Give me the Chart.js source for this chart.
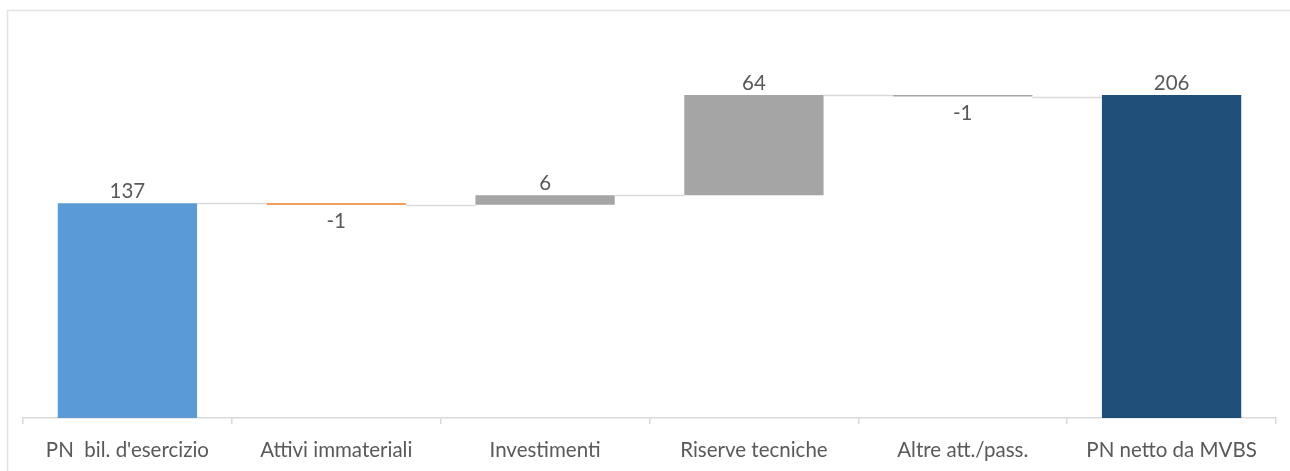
<!DOCTYPE html>
<html>
<head>
<meta charset="utf-8">
<script src="https://cdn.jsdelivr.net/npm/chart.js@4.4.1/dist/chart.umd.min.js"></script>
<style>
  html, body { margin: 0; padding: 0; background: #ffffff; }
  #wrap { width: 1290px; height: 471px; position: relative; }
</style>
</head>
<body>
<div id="wrap"><canvas id="c"></canvas></div>
<script>
const categories = ["PN  bil. d'esercizio", "Attivi immateriali", "Investimenti", "Riserve tecniche", "Altre att./pass.", "PN netto da MVBS"];
const values = [137, -1, 6, 64, -1, 206];
const isTotal = [true, false, false, false, false, true];
const barColors = ["#5B9BD5", "#ED7D31", "#A5A5A5", "#A5A5A5", "#A5A5A5", "#1F4E79"];
const yMin = 0;
const yMax = 250;

// floating ranges from running sum
const ranges = [];
const endLevels = [];
let running = 0;
values.forEach((v, i) => {
  if (isTotal[i]) {
    ranges.push([0, v]);
    running = v;
  } else {
    ranges.push([running, running + v]);
    running += v;
  }
  endLevels.push(running);
});

const waterfallPlugin = {
  id: 'waterfallExtras',
  beforeDraw(chart) {
    const ctx = chart.ctx;
    ctx.save();
    ctx.strokeStyle = '#E3E3E3';
    ctx.lineWidth = 1.5;
    ctx.strokeRect(7.5, 10.5, chart.width + 20, chart.height + 20);
    ctx.restore();
  },
  afterDatasetsDraw(chart) {
    const ctx = chart.ctx;
    const meta = chart.getDatasetMeta(0);
    const y = chart.scales.y;
    ctx.save();
    // connectors
    ctx.strokeStyle = '#D9D9D9';
    ctx.lineWidth = 1.5;
    for (let i = 0; i < meta.data.length - 1; i++) {
      const a = meta.data[i], b = meta.data[i + 1];
      const py = Math.round(y.getPixelForValue(endLevels[i])) + 0.5;
      ctx.beginPath();
      ctx.moveTo(a.x + a.width / 2, py);
      ctx.lineTo(b.x - b.width / 2, py);
      ctx.stroke();
    }
    // value labels
    ctx.fillStyle = '#595959';
    ctx.font = '20.5px Lato, "Open Sans", sans-serif';
    ctx.textAlign = 'center';
    ctx.textBaseline = 'alphabetic';
    meta.data.forEach((bar, i) => {
      const v = values[i];
      const r = ranges[i];
      const topPx = y.getPixelForValue(Math.max(r[0], r[1]));
      const botPx = y.getPixelForValue(Math.min(r[0], r[1]));
      const label = String(v);
      if (v >= 0) {
        ctx.fillText(label, bar.x, topPx - 5);
      } else {
        ctx.fillText(label, bar.x, botPx + 23);
      }
    });
    ctx.restore();
  }
};

new Chart(document.getElementById('c'), {
  type: 'bar',
  data: {
    labels: categories,
    datasets: [{
      data: ranges,
      backgroundColor: barColors,
      borderWidth: 0,
      barPercentage: 0.667,
      categoryPercentage: 1.0
    }]
  },
  options: {
    responsive: true,
    maintainAspectRatio: false,
    animation: false,
    layout: { padding: { left: 23, right: 14, top: 26, bottom: 0 } },
    plugins: {
      legend: { display: false },
      tooltip: { enabled: false },
      title: { display: false }
    },
    scales: {
      x: {
        offset: true,
        afterFit(scale) { scale.height = 53; },
        grid: {
          display: true,
          drawOnChartArea: false,
          drawTicks: true,
          tickLength: 6,
          color: '#D9D9D9',
          lineWidth: 1.5,
          offset: true
        },
        border: { display: true, color: '#D9D9D9', width: 1.5 },
        ticks: {
          color: '#595959',
          font: { family: 'Lato, "Open Sans", sans-serif', size: 20.5 },
          padding: 14,
          maxRotation: 0,
          autoSkip: false
        }
      },
      y: {
        display: false,
        min: yMin,
        max: yMax
      }
    }
  },
  plugins: [waterfallPlugin]
});
</script>
</body>
</html>
